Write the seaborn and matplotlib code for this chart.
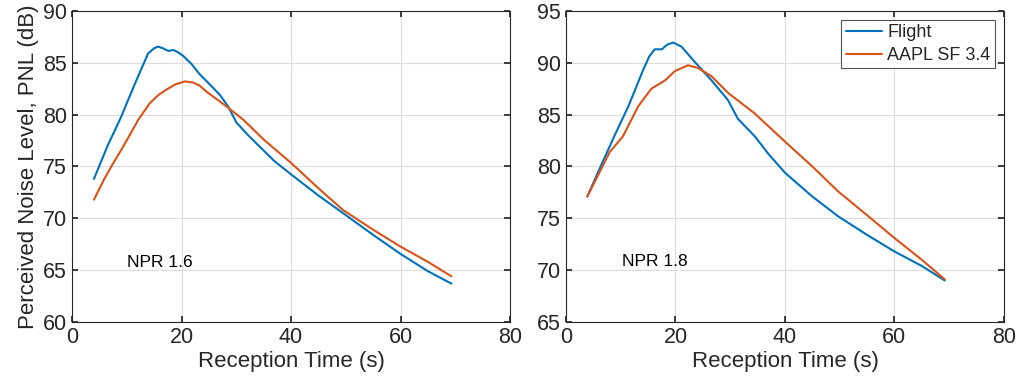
import matplotlib
matplotlib.use("Agg")
import matplotlib.pyplot as plt
import seaborn as sns
import pandas as pd

# NPR 1.6 panel
t16_flight = [4.0, 6.5, 8.9, 11.5, 13.9, 15.0, 15.7, 16.6, 17.6, 18.5, 19.4, 20.3, 21.8, 23.3, 25.2, 27.0, 28.5, 30.0, 32.0, 34.3, 37.0, 40.1, 45.0, 49.5, 55.0, 59.9, 65.0, 69.3]
pnl16_flight = [73.8, 77.0, 79.7, 83.0, 85.9, 86.4, 86.56, 86.4, 86.14, 86.24, 86.0, 85.66, 84.9, 83.9, 82.9, 81.9, 80.8, 79.26, 78.1, 76.9, 75.5, 74.2, 72.2, 70.5, 68.4, 66.6, 64.9, 63.7]
t16_aapl = [4.0, 5.8, 7.5, 9.0, 10.5, 12.1, 14.2, 15.8, 17.2, 18.8, 20.6, 22.1, 23.3, 24.6, 26.4, 28.2, 31.3, 35.0, 40.1, 45.0, 49.5, 55.0, 59.9, 65.0, 69.3]
pnl16_aapl = [71.8, 73.7, 75.3, 76.6, 78.0, 79.5, 81.1, 81.9, 82.4, 82.9, 83.2, 83.1, 82.8, 82.2, 81.5, 80.8, 79.5, 77.6, 75.3, 72.9, 70.8, 68.9, 67.3, 65.8, 64.4]

# NPR 1.8 panel
t18_flight = [3.9, 6.5, 8.9, 11.4, 14.1, 15.2, 16.2, 17.5, 18.5, 19.6, 21.1, 23.5, 26.6, 29.6, 31.4, 34.5, 37.0, 40.0, 45.0, 49.7, 55.0, 60.0, 65.0, 69.2]
pnl18_flight = [77.1, 80.2, 83.0, 85.8, 89.3, 90.6, 91.3, 91.3, 91.75, 91.95, 91.56, 90.1, 88.3, 86.4, 84.6, 82.9, 81.2, 79.4, 77.1, 75.2, 73.4, 71.8, 70.4, 69.0]
t18_aapl = [3.9, 6.0, 8.0, 10.4, 13.2, 15.6, 18.1, 19.9, 22.3, 24.1, 26.6, 29.6, 34.5, 40.0, 45.0, 49.7, 55.0, 60.0, 65.0, 69.2]
pnl18_aapl = [77.1, 79.3, 81.4, 82.9, 85.8, 87.5, 88.3, 89.2, 89.76, 89.5, 88.7, 87.1, 85.1, 82.4, 80.0, 77.6, 75.3, 73.1, 71.0, 69.1]

series_names = ["Flight", "AAPL SF 3.4"]
panel_labels = ["NPR 1.6", "NPR 1.8"]
colors = {"Flight": "#0072BD", "AAPL SF 3.4": "#D95319"}


def make_df(t_f, y_f, t_a, y_a):
    a = pd.DataFrame({"t": t_f, "pnl": y_f, "src": series_names[0]})
    b = pd.DataFrame({"t": t_a, "pnl": y_a, "src": series_names[1]})
    return pd.concat([a, b], ignore_index=True)


sns.set_theme(style="ticks")
plt.rcParams["font.family"] = ["Liberation Sans", "DejaVu Sans"]

fig = plt.figure(figsize=(10.32, 3.84), dpi=100)
ax1 = fig.add_axes([0.0698, 0.1615, 0.4244, 0.81])
ax2 = fig.add_axes([0.5484, 0.1615, 0.4244, 0.81])

panels = [
    (ax1, make_df(t16_flight, pnl16_flight, t16_aapl, pnl16_aapl), (60, 90), (10.1, 65.7)),
    (ax2, make_df(t18_flight, pnl18_flight, t18_aapl, pnl18_aapl), (65, 95), (10.3, 70.8)),
]

for i, (ax, df, ylim, txt) in enumerate(panels):
    sns.lineplot(data=df, x="t", y="pnl", hue="src", palette=colors, ax=ax,
                 linewidth=1.5, sort=False, legend=(i == 1))
    ax.set_xlim(0, 80)
    ax.set_ylim(*ylim)
    ax.set_xticks([0, 20, 40, 60, 80])
    ax.set_yticks(range(ylim[0], ylim[1] + 1, 5))
    ax.grid(True, color="#dedede", linewidth=0.8)
    ax.set_axisbelow(True)
    ax.tick_params(direction="in", labelsize=15.5, length=4, top=True, right=True,
                   colors="#262626", labelcolor="#262626")
    for s in ax.spines.values():
        s.set_visible(True)
        s.set_color("#262626")
        s.set_linewidth(0.8)
    ax.set_xlabel("Reception Time (s)", fontsize=16, color="#262626", labelpad=2)
    ax.set_ylabel("")
    ax.text(txt[0], txt[1], panel_labels[i], fontsize=12.5, va="center", ha="left",
            color="black")

ax1.set_ylabel("Perceived Noise Level, PNL (dB)", fontsize=16, color="#262626", labelpad=3)

leg = ax2.legend(loc="upper right", fontsize=13, frameon=True, fancybox=False,
                 borderaxespad=0.5, handlelength=2.0, borderpad=0.25,
                 labelspacing=0.3, handletextpad=0.3)
leg.get_frame().set_edgecolor("#262626")
leg.get_frame().set_linewidth(0.8)
leg.set_title(None)

fig.savefig("out.png", dpi=100)
